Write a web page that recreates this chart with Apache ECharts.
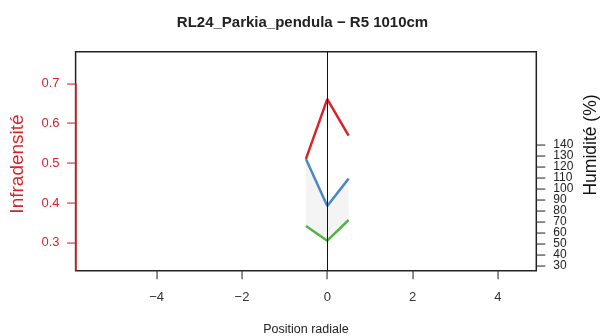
<!DOCTYPE html>
<html><head><meta charset="utf-8">
<script src="https://cdn.jsdelivr.net/npm/echarts@6/dist/echarts.min.js"></script>
<style>html,body{margin:0;padding:0;background:#fff}#c{width:605px;height:336px}</style>
</head><body><div id="c"></div>
<script>
var positions = [-0.5, 0, 0.5];
var infradensite = [0.511, 0.661, 0.569];
var humidite = [127.3, 84.5, 109.4];
var humiditeBasse = [66.4, 53.0, 71.8];
var xTicks = [-4, -2, 0, 2, 4];
var leftTicks = [0.3, 0.4, 0.5, 0.6, 0.7];
var rightTicks = [30, 40, 50, 60, 70, 80, 90, 100, 110, 120, 130, 140];

var FONT = '"Liberation Sans", Arial, Helvetica, sans-serif';
var RED = '#d7242a', BLUE = '#4a88c6', GREEN = '#52b448';
var X_MIN = -5.9, X_MAX = 4.9, L_MIN = 0.23, L_MAX = 0.78, R_MIN = 25.7, R_MAX = 224.8;
function pairs(ys){ return positions.map(function(x,i){ return [x, ys[i]]; }); }

var chart = echarts.init(document.getElementById('c'), null, {renderer:'canvas'});
chart.setOption({
  animation: false,
  title: { text: 'RL24_Parkia_pendula \u2212 R5 1010cm', left: 'center', top: 10,
    textStyle: { fontFamily: FONT, fontSize: 15, fontWeight: 'bold', color: '#222' } },
  grid: { left: 75.6, right: 68.7, top: 51.7, bottom: 65.3, show: true, containLabel: false,
    outerBoundsMode: 'none',
    borderColor: '#222', borderWidth: 1.5, backgroundColor: 'transparent' },
  xAxis: { type: 'value', min: X_MIN, max: X_MAX,
    name: 'Position radiale', nameLocation: 'middle', nameGap: 52,
    nameTextStyle: { fontFamily: FONT, fontSize: 12.5, color: '#222' },
    axisLine: { show: false, onZero: false },
    axisTick: { show: false },
    axisLabel: { customValues: xTicks, margin: 20, hideOverlap: false, fontFamily: FONT, fontSize: 13, color: '#333',
      formatter: function(v){ return v < 0 ? '\u2212' + Math.abs(v) : String(v); } },
    splitLine: { show: false } },
  yAxis: [
    { type: 'value', min: L_MIN, max: L_MAX, position: 'left',
      axisLine: { show: false, onZero: false },
      axisTick: { show: false },
      axisLabel: { customValues: leftTicks, margin: 16, hideOverlap: false, fontFamily: FONT, fontSize: 13, color: RED,
        formatter: function(v){ return v.toFixed(1); } },
      splitLine: { show: false } },
    { type: 'value', min: R_MIN, max: R_MAX, position: 'right',
      axisLine: { show: false, onZero: false },
      axisTick: { show: false },
      axisLabel: { show: false },
      splitLine: { show: false } }
  ],
  series: [
    { type: 'custom', yAxisIndex: 1, silent: true, z: 1,
      data: positions.map(function(x, i){ return [x, humidite[i], humiditeBasse[i]]; }),
      renderItem: function(params, api){
        if (params.dataIndex !== 0) return null;
        var top = positions.map(function(x, i){ return api.coord([x, humidite[i]]); });
        var bot = positions.map(function(x, i){ return api.coord([x, humiditeBasse[i]]); }).reverse();
        return { type: 'polygon', shape: { points: top.concat(bot) }, style: { fill: '#f4f4f4' } };
      } },
    { type: 'line', yAxisIndex: 1, data: pairs(humidite), symbol: 'none', z: 3,
      lineStyle: { color: BLUE, width: 2.5 } },
    { type: 'line', yAxisIndex: 1, data: pairs(humiditeBasse), symbol: 'none', z: 3,
      lineStyle: { color: GREEN, width: 2.5 } },
    { type: 'line', yAxisIndex: 0, data: pairs(infradensite), symbol: 'none', z: 3,
      lineStyle: { color: RED, width: 2.5 },
      markLine: { silent: true, symbol: 'none', label: { show: false },
        data: [
          { xAxis: 0, lineStyle: { color: '#111', width: 1, type: 'solid' } },
          [ { coord: [X_MIN, L_MIN], lineStyle: { color: RED, width: 1.5, type: 'solid' } }, { coord: [X_MIN, 0.7] } ]
        ] } }
  ]
});

// Ticks and humidity labels, positioned through the library's own scales
var g = [
  { type: 'text', id: 'lname', x: 18, y: 164, rotation: Math.PI/2, silent: true,
    style: { text: 'Infradensit\u00e9', fill: RED, font: '19px ' + FONT, textAlign: 'center', textVerticalAlign: 'middle' } },
  { type: 'text', id: 'rname', x: 591, y: 145, rotation: Math.PI/2, silent: true,
    style: { text: 'Humidit\u00e9 (%)', fill: '#111', font: '17.5px ' + FONT, textAlign: 'center', textVerticalAlign: 'middle' } }
];
var yBottom = chart.convertToPixel({ yAxisIndex: 0 }, L_MIN);
var xLeft = chart.convertToPixel({ xAxisIndex: 0 }, X_MIN);
var xRight = chart.convertToPixel({ xAxisIndex: 0 }, X_MAX);
xTicks.forEach(function(v, i){
  var px = Math.round(chart.convertToPixel({ xAxisIndex: 0 }, v));
  g.push({ type: 'rect', id: 'xt' + i, silent: true, z: 10,
    shape: { x: px - 0.5, y: yBottom, width: 1.1, height: 8.5 }, style: { fill: '#333' } });
});
leftTicks.forEach(function(v, i){
  var py = Math.round(chart.convertToPixel({ yAxisIndex: 0 }, v));
  g.push({ type: 'rect', id: 'lt' + i, silent: true, z: 10,
    shape: { x: xLeft - 8.5, y: py - 0.5, width: 8.5, height: 1.1 }, style: { fill: RED } });
});
rightTicks.forEach(function(v, i){
  var py = chart.convertToPixel({ yAxisIndex: 1 }, v);
  var pr = Math.round(py);
  g.push({ type: 'rect', id: 'rt' + i, silent: true, z: 10,
    shape: { x: xRight, y: pr - 0.5, width: 9, height: 1.1 }, style: { fill: '#333' } });
  g.push({ type: 'text', id: 'rl' + i, silent: true, z: 10, x: xRight + 17, y: py,
    style: { text: String(v), fill: '#222', font: '12px ' + FONT, textAlign: 'left', textVerticalAlign: 'middle' } });
});
chart.setOption({ graphic: g });
</script></body></html>
